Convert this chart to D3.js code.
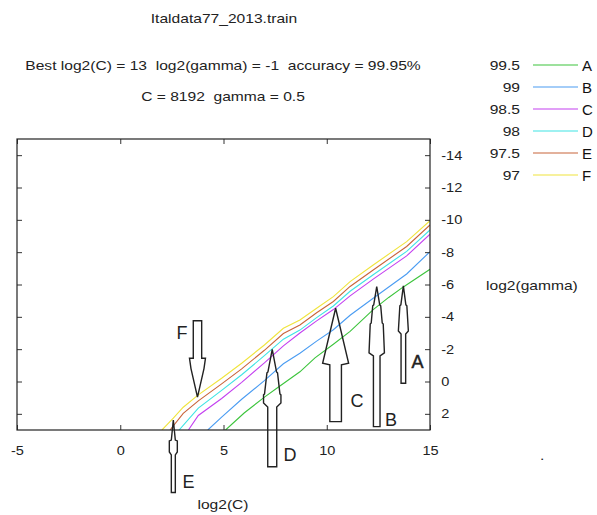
<!DOCTYPE html>
<html>
<head>
<meta charset="utf-8">
<script src="https://cdn.jsdelivr.net/npm/d3@7/dist/d3.min.js"></script>
<style>
  body { margin: 0; background: #fff; }
  svg { display: block; font-family: "Liberation Sans", Arial, sans-serif; }
  text { white-space: pre; }
</style>
</head>
<body>
<div id="chart"></div>
<script>
// grid search result, log2(C) vs log2(gamma)
const titleText = 'Italdata77_2013.train'
const bestText = 'Best log2(C) = 13  log2(gamma) = -1  accuracy = 99.95%'
const cgText = 'C = 8192  gamma = 0.5'

const xTicks = [-5, 0, 5, 10, 15]
const yTicks = [-14, -12, -10, -8, -6, -4, -2, 0, 2]

const levels = ['99.5', '99', '98.5', '98', '97.5', '97']
const letters = ['A', 'B', 'C', 'D', 'E', 'F']
const colors = ['#3cc43c', '#4a9cf2', '#c440f0', '#3ee4e4', '#c8643a', '#f0e43c']

// contour points [log2(C), log2(gamma)]
const lineA = [[5.1, 3], [6.0, 1.95], [7.0, 0.95], [7.58, 0.42], [8.7, -0.6], [9.43, -1.46], [10.32, -2.3], [11.13, -3.1], [12.25, -4.45], [13.0, -5.2], [13.71, -5.85], [15, -6.94]]
const lineB = [[4.24, 3], [4.91, 2.2], [5.88, 1.1], [6.98, -0.05], [7.9, -1.1], [8.7, -1.75], [9.51, -2.5], [10.32, -3.2], [11.13, -4.1], [12.25, -5.15], [13.87, -6.65], [15, -8.03]]
const lineC = [[3.3, 3], [3.78, 2.1], [4.91, 1.05], [5.88, 0.05], [6.98, -1.15], [7.9, -2.2], [8.7, -3.0], [9.51, -3.75], [10.32, -4.45], [11.13, -5.3], [12.25, -6.33], [13.87, -7.77], [15, -9.11]]
const lineD = [[2.85, 3], [3.78, 1.65], [4.91, 0.55], [5.88, -0.42], [6.98, -1.6], [7.9, -2.62], [8.7, -3.18], [9.51, -3.95], [10.32, -4.67], [11.13, -5.58], [12.25, -6.6], [13.87, -8.05], [15, -9.37]]
const lineE = [[2.41, 3], [3.05, 1.97], [3.78, 1.2], [4.91, 0.15], [5.88, -0.78], [6.98, -1.93], [7.9, -2.97], [8.7, -3.5], [9.51, -4.25], [10.32, -4.95], [11.13, -5.88], [12.25, -6.9], [13.87, -8.35], [15, -9.68]]
const lineF = [[2.02, 3], [2.57, 2.27], [3.05, 1.59], [3.78, 0.83], [4.91, -0.2], [5.88, -1.13], [6.98, -2.26], [7.9, -3.29], [8.7, -3.81], [9.51, -4.53], [10.32, -5.25], [11.13, -6.18], [12.25, -7.21], [13.87, -8.65], [15, -9.95]]
const contours = [lineA, lineB, lineC, lineD, lineE, lineF]

// hand drawn arrows: log2(C) position, profile [log2(gamma), half width px] from tip to tail
const arrowX = [13.71, 12.42, 10.43, 7.36, 2.57, 3.74]
const arrowProfiles = [
  [[-5.91, 0], [-4.74, 2.5], [-4.68, 3.5], [-3.13, 5], [-2.94, 2.3], [0.11, 2.3]],
  [[-5.87, 0], [-4.74, 3], [-4.68, 4], [-3.62, 5.5], [-3.56, 6.5], [-1.77, 7.7], [-1.58, 3.3], [2.79, 3.3]],
  [[-4.53, 0], [-1.13, 13], [-1.03, 5.8], [2.48, 5.8]],
  [[-1.99, 0], [-0.59, 4.3], [-0.53, 5.3], [0.77, 7.7], [0.83, 8.7], [1.33, 8.7], [1.58, 4.5], [5.27, 4.5]],
  [[2.38, 0], [3.62, 2], [3.68, 4], [4.36, 4], [4.54, 2], [6.87, 2]],
  [[0.97, 0], [-0.8, 6.5], [-1.44, 8], [-1.44, 4.2], [-3.76, 4.2]]
]
const arrowLabelPos = [[14.4, -1.21], [13.11, 2.37], [11.46, 1.2], [8.22, 4.54], [3.3, 6.19], [2.99, -3.06]]

const width = 597, height = 515
const plotLeft = 17, plotRight = 430, plotTop = 139, plotBottom = 430
// the original text is drawn a bit wider than the font
const stretch = 1.2, tickStretch = 1.12

let svg = d3.select('#chart')
  .append('svg')
  .attr('width', width)
  .attr('height', height)

let x = d3.scaleLinear().domain([-5, 15]).range([plotLeft, plotRight])
let y = d3.scaleLinear().domain([-15, 3]).range([plotTop, plotBottom])

function label(parent, str, px, py, size, anchor) {
  return parent.append('text')
    .attr('transform', `translate(${px},${py}) scale(${stretch},1)`)
    .attr('text-anchor', anchor)
    .attr('font-size', size)
    .attr('fill', '#222')
    .text(str)
}

// titles
label(svg, titleText, 224, 23, 13, 'middle')
label(svg, bestText, 223, 70, 13, 'middle')
label(svg, cgText, 223, 101, 13, 'middle')

// legend
let legend = svg.selectAll('.legend')
  .data(levels)
  .enter()
  .append('g')
  .attr('class', 'legend')
  .attr('transform', (d, i) => `translate(0,${65 + i * 22})`)

legend.append('text')
  .attr('transform', `translate(520,5) scale(${stretch},1)`)
  .attr('text-anchor', 'end')
  .attr('font-size', 13)
  .attr('fill', '#222')
  .text(d => d)

legend.append('line')
  .attr('x1', 533).attr('x2', 578)
  .attr('y1', 0).attr('y2', 0)
  .attr('stroke', (d, i) => colors[i])
  .attr('stroke-width', 1.2)

legend.append('text')
  .attr('x', 582).attr('y', 6)
  .attr('font-size', 15)
  .attr('fill', '#111')
  .text((d, i) => letters[i])

// contour lines
svg.append('clipPath').attr('id', 'plot')
  .append('rect')
  .attr('x', plotLeft).attr('y', plotTop)
  .attr('width', plotRight - plotLeft).attr('height', plotBottom - plotTop)

let line = d3.line()
  .x(d => x(d[0]))
  .y(d => y(d[1]))

svg.append('g')
  .attr('clip-path', 'url(#plot)')
  .selectAll('path')
  .data(contours)
  .enter()
  .append('path')
  .attr('d', line)
  .attr('fill', 'none')
  .attr('stroke', (d, i) => colors[i])
  .attr('stroke-width', 1.1)

// axes, ticks inward
let fmt = d => String(d)

svg.append('g')
  .attr('transform', `translate(0,${plotBottom})`)
  .call(d3.axisBottom(x).tickValues(xTicks).tickSizeInner(-5).tickSizeOuter(0).tickPadding(16).tickFormat(fmt))
svg.append('g')
  .attr('transform', `translate(0,${plotTop})`)
  .call(d3.axisTop(x).tickValues(xTicks).tickSizeInner(-5).tickSizeOuter(0).tickFormat(''))
svg.append('g')
  .attr('transform', `translate(${plotLeft},0)`)
  .call(d3.axisLeft(y).tickValues(yTicks).tickSizeInner(-5).tickSizeOuter(0).tickFormat(''))
svg.append('g')
  .attr('transform', `translate(${plotRight},0)`)
  .call(d3.axisRight(y).tickValues(yTicks).tickSizeInner(-5).tickSizeOuter(0).tickPadding(10).tickFormat(fmt))

svg.selectAll('.domain').remove()
svg.selectAll('.tick line').attr('stroke', '#333')
svg.selectAll('.tick text')
  .attr('font-size', 13)
  .attr('font-family', '"Liberation Sans", Arial, sans-serif')
  .attr('fill', '#222')
  .attr('transform', `scale(${tickStretch},1)`)

svg.append('rect')
  .attr('x', plotLeft).attr('y', plotTop)
  .attr('width', plotRight - plotLeft).attr('height', plotBottom - plotTop)
  .attr('fill', 'none')
  .attr('stroke', '#222')
  .attr('stroke-width', 1.2)

// axis titles
label(svg, 'log2(C)', 223, 509, 13, 'middle')
label(svg, 'log2(gamma)', 486, 290, 13, 'start')
label(svg, '.', 540, 460, 13, 'start')

// arrows
function arrowPath(cx, profile) {
  let px = x(cx)
  let rightSide = profile.map(p => [px + p[1], y(p[0])])
  let leftSide = profile.map(p => [px - p[1], y(p[0])]).reverse()
  return 'M' + rightSide.concat(leftSide).map(p => p.join(',')).join('L') + 'Z'
}

svg.selectAll('.arrow')
  .data(arrowProfiles)
  .enter()
  .append('path')
  .attr('class', 'arrow')
  .attr('d', (d, i) => arrowPath(arrowX[i], d))
  .attr('fill', 'none')
  .attr('stroke', '#222')
  .attr('stroke-width', 1.4)
  .attr('stroke-linejoin', 'miter')

svg.selectAll('.arrowlabel')
  .data(letters)
  .enter()
  .append('text')
  .attr('class', 'arrowlabel')
  .attr('x', (d, i) => x(arrowLabelPos[i][0]))
  .attr('y', (d, i) => y(arrowLabelPos[i][1]))
  .attr('dy', '0.36em')
  .attr('text-anchor', 'middle')
  .attr('font-size', 18)
  .attr('fill', '#222')
  .attr('stroke', (d, i) => i === 0 ? '#222' : 'none')
  .attr('stroke-width', 0.5)
  .text(d => d)
</script>
</body>
</html>
